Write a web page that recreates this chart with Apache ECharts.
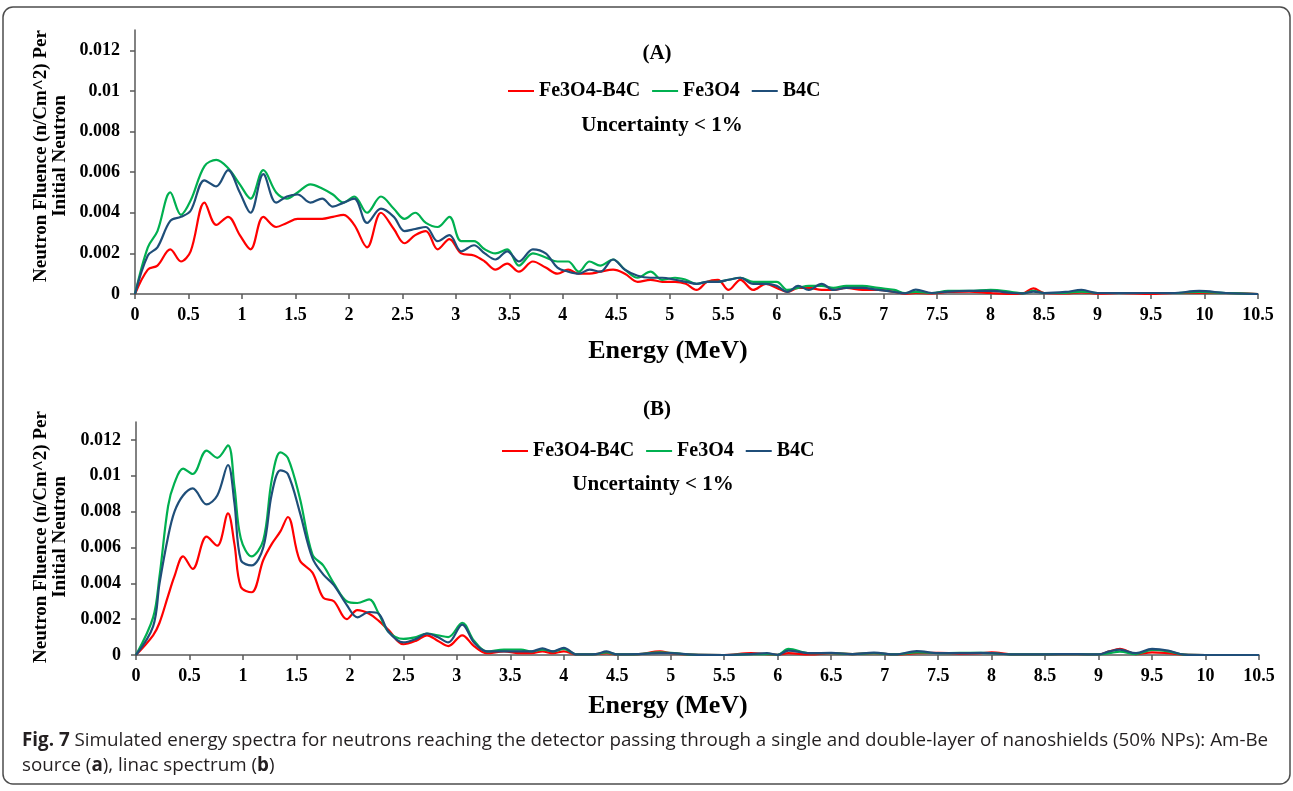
<!DOCTYPE html>
<html>
<head>
<meta charset="utf-8">
<script src="https://cdn.jsdelivr.net/npm/echarts@6/dist/echarts.min.js"></script>
<style>
html, body { margin: 0; padding: 0; background: #fff; }
#chart { width: 1293px; height: 791px; }
</style>
</head>
<body>
<div id="chart"></div>
<script>
// series names (legend order)
var seriesNames = ['Fe3O4-B4C', 'Fe3O4', 'B4C'];
var yTicks = [0, 0.002, 0.004, 0.006, 0.008, 0.01, 0.012];

// (A) Am-Be source
var energyA = [0, 0.12, 0.21, 0.33, 0.43, 0.52, 0.65, 0.76, 0.87, 0.98, 1.08, 1.2, 1.32, 1.42, 1.52, 1.64, 1.75, 1.85, 1.95, 2.05,
	2.17, 2.3, 2.42, 2.52, 2.62, 2.72, 2.83, 2.94, 3.05, 3.17, 3.27, 3.37, 3.48, 3.59, 3.72, 3.84, 3.95, 4.05, 4.15, 4.25,
	4.35, 4.47, 4.58, 4.7, 4.82, 4.93, 5.05, 5.15, 5.25, 5.35, 5.45, 5.55, 5.66, 5.78, 5.9, 6.0, 6.1, 6.2, 6.3, 6.42,
	6.53, 6.65, 6.8, 6.95, 7.1, 7.2, 7.3, 7.45, 7.6, 7.8, 8.0, 8.2, 8.3, 8.4, 8.5, 8.7, 8.85, 9.0, 9.2, 9.5,
	9.7, 9.95, 10.2, 10.5];
var redA = [0, 0.0012, 0.0014, 0.0022, 0.0016, 0.0021, 0.0045, 0.0034, 0.0038, 0.0029, 0.0022, 0.0038, 0.0033, 0.0035, 0.0037, 0.0037, 0.0037, 0.0038, 0.0039, 0.0034,
	0.0023, 0.0040, 0.0032, 0.0025, 0.0029, 0.0031, 0.0022, 0.0027, 0.0020, 0.0019, 0.0016, 0.0012, 0.0015, 0.0011, 0.0016, 0.0013, 0.0010, 0.0012, 0.0010, 0.0010,
	0.0011, 0.0012, 0.0010, 0.0006, 0.0007, 0.0006, 0.0006, 0.0005, 0.0002, 0.0006, 0.0007, 0.0002, 0.0007, 0.0002, 0.0005, 0.0003, 0.0001, 0.0003, 0.0003, 0.0002,
	0.0002, 0.0003, 0.0002, 0.0002, 0.0001, 0.00002, 0.00005, 0.00003, 0.0001, 0.00012, 0.00005, 0.0, 0.00003, 0.00028, 0.00005, 0.00003, 0.00008, 0.00002, 0.00005, 0.0,
	0.00005, 0.00005, 0.00005, 0];
var greenA = [0, 0.0023, 0.0031, 0.0050, 0.0039, 0.0046, 0.0063, 0.0066, 0.0062, 0.0054, 0.0047, 0.0061, 0.0050, 0.0047, 0.0050, 0.0054, 0.0052, 0.0049, 0.0045, 0.0048,
	0.0040, 0.0048, 0.0042, 0.0037, 0.0040, 0.0035, 0.0033, 0.0038, 0.0026, 0.0026, 0.0022, 0.0020, 0.0022, 0.0014, 0.0020, 0.0018, 0.0016, 0.0016, 0.0011, 0.0016,
	0.0014, 0.0017, 0.0012, 0.0008, 0.0011, 0.0007, 0.0008, 0.0007, 0.0005, 0.0006, 0.0006, 0.0007, 0.0008, 0.0006, 0.0006, 0.0006, 0.0002, 0.0003, 0.0004, 0.0004,
	0.0003, 0.0004, 0.0004, 0.0003, 0.0002, 0.00005, 0.0001, 0.00005, 0.00015, 0.00015, 0.0002, 0.0001, 0.00003, 0.00015, 0.00005, 0.00005, 0.00012, 0.00005, 0.00005, 0.00005,
	0.00005, 0.0001, 0.00005, 0];
var blueA = [0, 0.0019, 0.0023, 0.0036, 0.0038, 0.0041, 0.0056, 0.0053, 0.0061, 0.0050, 0.0040, 0.0059, 0.0045, 0.0048, 0.0049, 0.0045, 0.0047, 0.0043, 0.0045, 0.0047,
	0.0035, 0.0042, 0.0038, 0.0031, 0.0032, 0.0033, 0.0026, 0.0029, 0.0021, 0.0024, 0.0020, 0.0017, 0.0021, 0.0016, 0.0022, 0.0020, 0.0013, 0.0011, 0.0010, 0.0012,
	0.0011, 0.0017, 0.0012, 0.0009, 0.0008, 0.0008, 0.0007, 0.0006, 0.0005, 0.0006, 0.0006, 0.0007, 0.0008, 0.0005, 0.0005, 0.0004, 0.0001, 0.0004, 0.0002, 0.0005,
	0.0002, 0.0003, 0.0003, 0.0002, 0.0001, 0.00003, 0.00022, 0.00005, 0.00012, 0.00015, 0.00015, 0.00005, 0.00003, 0.00012, 0.00005, 0.0001, 0.0002, 0.00005, 0.00005, 0.00005,
	0.00005, 0.00015, 0.00005, 0];

// (B) linac spectrum
var energyB = [0, 0.16, 0.22, 0.3, 0.36, 0.44, 0.53, 0.66, 0.76, 0.86, 0.92, 0.98, 1.08, 1.19, 1.27, 1.35, 1.42, 1.53, 1.65, 1.75,
	1.85, 1.97, 2.07, 2.18, 2.27, 2.36, 2.5, 2.62, 2.72, 2.82, 2.92, 3.05, 3.16, 3.28, 3.44, 3.6, 3.7, 3.8, 3.9, 4.0,
	4.12, 4.3, 4.4, 4.5, 4.7, 4.9, 5.0, 5.2, 5.5, 5.75, 5.9, 6.0, 6.1, 6.3, 6.5, 6.7, 6.9, 7.1, 7.3, 7.5,
	7.7, 7.9, 8.0, 8.2, 8.5, 8.8, 9.0, 9.1, 9.2, 9.35, 9.5, 9.65, 9.8, 10.0, 10.5];
var redB = [0, 0.0011, 0.0018, 0.0033, 0.0044, 0.0055, 0.0048, 0.0066, 0.0061, 0.0079, 0.0062, 0.0038, 0.0035, 0.0053, 0.0062, 0.0069, 0.0077, 0.0053, 0.0046, 0.0032,
	0.0030, 0.0020, 0.0025, 0.0023, 0.0019, 0.0014, 0.0006, 0.0008, 0.0011, 0.0008, 0.0005, 0.0011, 0.0005, 0.0001, 0.0002, 0.0001, 0.0001, 0.0002, 0.0001, 0.0002,
	0.00003, 0.00005, 0.0001, 0.00003, 0.00005, 0.0002, 0.0001, 0.00002, 0, 0.0001, 0.00005, 0.00001, 0.0001, 0.00003, 0.0001, 0.00005, 0.0001, 0.00003, 0.0001, 0.00012,
	0.00008, 0.0001, 0.00015, 0.00003, 0.00004, 0.00005, 0.00003, 0.0002, 0.00034, 0.00005, 0.00015, 0.0001, 0.00002, 0, 0];
var greenB = [0, 0.0021, 0.0044, 0.0083, 0.0096, 0.0104, 0.0101, 0.0114, 0.0110, 0.0117, 0.0094, 0.0065, 0.0055, 0.0064, 0.0098, 0.0113, 0.0110, 0.0088, 0.0056, 0.0050,
	0.0040, 0.0030, 0.0029, 0.0031, 0.0023, 0.0013, 0.0009, 0.0010, 0.0012, 0.0011, 0.0010, 0.0018, 0.0008, 0.0002, 0.0003, 0.0003, 0.0002, 0.0003, 0.0002, 0.00034,
	0.00003, 0.00005, 0.00015, 0.00003, 0.00005, 0.00015, 0.00012, 0.00002, 0, 0.00005, 0.00005, 0.00001, 0.00034, 0.0001, 0.0001, 0.00005, 0.0001, 0.00003, 0.00015, 0.0001,
	0.00012, 0.00012, 0.0001, 0.00003, 0.00004, 0.00005, 0.00003, 0.0001, 0.00019, 0.00005, 0.00028, 0.0002, 0.00002, 0, 0];
var blueB = [0, 0.0016, 0.0040, 0.0066, 0.0080, 0.0089, 0.0093, 0.0084, 0.0089, 0.0106, 0.0085, 0.0053, 0.0050, 0.0060, 0.0090, 0.0103, 0.0101, 0.0080, 0.0054, 0.0045,
	0.0039, 0.0028, 0.0021, 0.0024, 0.0023, 0.0013, 0.0007, 0.0009, 0.0012, 0.0010, 0.0007, 0.0017, 0.0007, 0.0002, 0.0002, 0.0002, 0.0002, 0.00037, 0.0002, 0.0004,
	0.00003, 0.00005, 0.0002, 0.00003, 0.00005, 0.0001, 0.0001, 0.00002, 0, 0.00005, 0.0001, 0.00001, 0.00024, 0.0001, 0.00012, 0.00005, 0.00013, 0.00003, 0.00022, 0.0001,
	0.0001, 0.00012, 0.0001, 0.00003, 0.00004, 0.00005, 0.00003, 0.0002, 0.0003, 0.0001, 0.00034, 0.00025, 0.00002, 0, 0];

var colors = ['#ff0000', '#00b050', '#1f4e79'];
var serif = 'Liberation Serif';

function pairs(xs, ys) {
	return xs.map(function (x, i) { return [x, ys[i]]; });
}

function makeXAxis(gridIndex) {
	return {
		type: 'value', gridIndex: gridIndex, min: 0, max: 10.5, interval: 0.5,
		axisLine: { lineStyle: { color: '#595959', width: 1.5 } },
		axisTick: { show: true, length: 5, lineStyle: { color: '#595959', width: 1.5 } },
		axisLabel: { color: '#000', fontFamily: serif, fontWeight: 'bold', fontSize: 18, margin: 12 },
		splitLine: { show: false }
	};
}

function makeYAxis(gridIndex) {
	return {
		type: 'value', gridIndex: gridIndex, min: 0, max: 0.013, interval: 0.002,
		axisLine: { show: true, lineStyle: { color: '#595959', width: 1.5 } },
		axisTick: { show: true, length: 5, customValues: yTicks, lineStyle: { color: '#595959', width: 1.5 } },
		axisLabel: { color: '#000', fontFamily: serif, fontWeight: 'bold', fontSize: 18, margin: 15, customValues: yTicks },
		splitLine: { show: false }
	};
}

function makeSeries(idx, gridIdx, xs, ys) {
	return {
		name: seriesNames[idx], type: 'line', xAxisIndex: gridIdx, yAxisIndex: gridIdx,
		data: pairs(xs, ys), symbol: 'none', smooth: 0.35,
		lineStyle: { color: colors[idx], width: 2.2 }, itemStyle: { color: colors[idx] }
	};
}

function titleText(text, x, y, size) {
	return {
		type: 'text', x: x, y: y,
		style: { text: text, fill: '#000', font: 'bold ' + size + 'px "' + serif + '"', align: 'center', verticalAlign: 'middle' }
	};
}

function yTitle(x, y) {
	return {
		type: 'text', x: x, y: y, rotation: Math.PI / 2,
		style: {
			text: 'Neutron Fluence (n/Cm^2) Per\nInitial Neutron', fill: '#000',
			font: 'bold 19px "' + serif + '"', lineHeight: 19, align: 'center', verticalAlign: 'middle'
		}
	};
}

var legendBase = {
	data: seriesNames, selectedMode: false, icon: 'rect', itemWidth: 26, itemHeight: 2, itemGap: 12,
	textStyle: { color: '#000', fontFamily: serif, fontWeight: 'bold', fontSize: 20 }
};

var capRich = {
	b: { fontFamily: 'Open Sans', fontWeight: 'bold', fontSize: 18.8, fill: '#231f20' },
	n: { fontFamily: 'Open Sans', fontSize: 18.8, fill: '#231f20' }
};

var chart = echarts.init(document.getElementById('chart'));
chart.setOption({
	animation: false,
	backgroundColor: '#fff',
	grid: [
		{ left: 135, right: 35, top: 30, height: 264, outerBoundsMode: 'none' },
		{ left: 136, right: 34, top: 422, height: 233, outerBoundsMode: 'none' }
	],
	legend: [
		Object.assign({ left: 503, top: 76 }, legendBase),
		Object.assign({ left: 497, top: 436 }, legendBase)
	],
	xAxis: [makeXAxis(0), makeXAxis(1)],
	yAxis: [makeYAxis(0), makeYAxis(1)],
	series: [
		makeSeries(0, 0, energyA, redA),
		makeSeries(1, 0, energyA, greenA),
		makeSeries(2, 0, energyA, blueA),
		makeSeries(0, 1, energyB, redB),
		makeSeries(1, 1, energyB, greenB),
		makeSeries(2, 1, energyB, blueB)
	],
	graphic: [
		{
			type: 'rect', shape: { x: 3, y: 7, width: 1287, height: 777, r: 10 },
			style: { fill: 'none', stroke: '#4d4d4d', lineWidth: 1.5 }, silent: true
		},
		titleText('(A)', 657, 54, 21),
		titleText('Uncertainty < 1%', 662, 126, 21),
		titleText('Energy (MeV)', 668, 351, 26),
		yTitle(51, 156),
		titleText('(B)', 657, 410, 21),
		titleText('Uncertainty < 1%', 653, 485, 21),
		titleText('Energy (MeV)', 668, 706, 26),
		yTitle(51, 537),
		{
			type: 'text', x: 22, y: 741,
			style: {
				text: '{b|Fig. 7}{n| Simulated energy spectra for neutrons reaching the detector passing through a single and double-layer of nanoshields (50% NPs): Am-Be}',
				rich: capRich, verticalAlign: 'middle'
			}
		},
		{
			type: 'text', x: 22, y: 766,
			style: {
				text: '{n|source (}{b|a}{n|), linac spectrum (}{b|b}{n|)}',
				rich: capRich, verticalAlign: 'middle'
			}
		}
	]
});
</script>
</body>
</html>
